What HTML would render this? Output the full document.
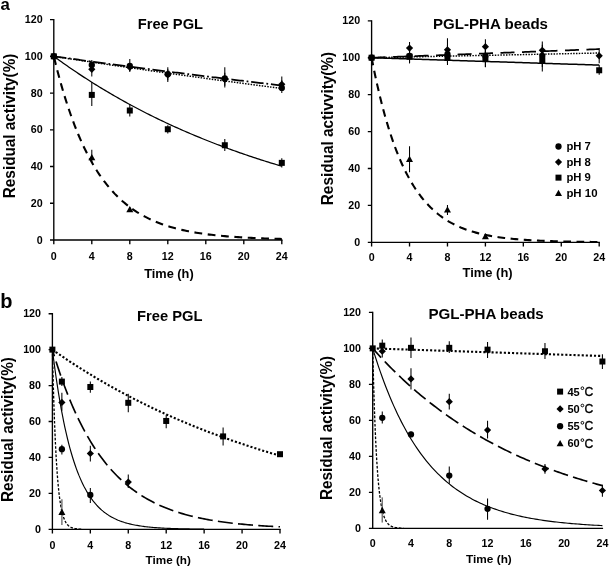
<!DOCTYPE html>
<html lang="en"><head><meta charset="utf-8"><title>Residual activity of free PGL and PGL-PHA beads</title>
<style>html,body{margin:0;padding:0;background:#fff}body{width:609px;height:567px;overflow:hidden}svg{display:block;will-change:transform;opacity:0.999}text{font-family:"Liberation Sans", sans-serif;fill:#000}</style></head><body>
<svg width="609" height="567" viewBox="0 0 609 567">
<rect width="609" height="567" fill="#fff"/>
<g id="p1">
<path d="M53.8 19.6 V240 H281.8" fill="none" stroke="#000" stroke-width="1.35" stroke-linecap="square"/>
<text x="42.6" y="243.6" font-size="11.2" font-weight="bold" text-anchor="end" textLength="5.95" lengthAdjust="spacingAndGlyphs">0</text>
<text x="42.6" y="206.87" font-size="11.2" font-weight="bold" text-anchor="end" textLength="11.9" lengthAdjust="spacingAndGlyphs">20</text>
<text x="42.6" y="170.13" font-size="11.2" font-weight="bold" text-anchor="end" textLength="11.9" lengthAdjust="spacingAndGlyphs">40</text>
<text x="42.6" y="133.4" font-size="11.2" font-weight="bold" text-anchor="end" textLength="11.9" lengthAdjust="spacingAndGlyphs">60</text>
<text x="42.6" y="96.67" font-size="11.2" font-weight="bold" text-anchor="end" textLength="11.9" lengthAdjust="spacingAndGlyphs">80</text>
<text x="42.6" y="59.93" font-size="11.2" font-weight="bold" text-anchor="end" textLength="17.85" lengthAdjust="spacingAndGlyphs">100</text>
<text x="42.6" y="23.2" font-size="11.2" font-weight="bold" text-anchor="end" textLength="17.85" lengthAdjust="spacingAndGlyphs">120</text>
<text x="53.8" y="259.8" font-size="11.2" font-weight="bold" text-anchor="middle" textLength="5.95" lengthAdjust="spacingAndGlyphs">0</text>
<text x="91.8" y="259.8" font-size="11.2" font-weight="bold" text-anchor="middle" textLength="5.95" lengthAdjust="spacingAndGlyphs">4</text>
<text x="129.8" y="259.8" font-size="11.2" font-weight="bold" text-anchor="middle" textLength="5.95" lengthAdjust="spacingAndGlyphs">8</text>
<text x="167.8" y="259.8" font-size="11.2" font-weight="bold" text-anchor="middle" textLength="11.9" lengthAdjust="spacingAndGlyphs">12</text>
<text x="205.8" y="259.8" font-size="11.2" font-weight="bold" text-anchor="middle" textLength="11.9" lengthAdjust="spacingAndGlyphs">16</text>
<text x="243.8" y="259.8" font-size="11.2" font-weight="bold" text-anchor="middle" textLength="11.9" lengthAdjust="spacingAndGlyphs">20</text>
<text x="281.8" y="259.8" font-size="11.2" font-weight="bold" text-anchor="middle" textLength="11.9" lengthAdjust="spacingAndGlyphs">24</text>
<path d="M50 240H53.8M50 203.27H53.8M50 166.53H53.8M50 129.8H53.8M50 93.07H53.8M50 56.33H53.8M50 19.6H53.8M53.8 240V244.2M91.8 240V244.2M129.8 240V244.2M167.8 240V244.2M205.8 240V244.2M243.8 240V244.2M281.8 240V244.2" fill="none" stroke="#000" stroke-width="1.35"/>
<text x="0.6" y="10.3" font-size="16.8" font-weight="bold" text-anchor="start">a</text>
<text x="137.8" y="28.8" font-size="14.9" font-weight="bold" text-anchor="start" textLength="65.2" lengthAdjust="spacingAndGlyphs">Free PGL</text>
<text x="144.2" y="277.7" font-size="12.6" font-weight="bold" text-anchor="start" textLength="49.5" lengthAdjust="spacingAndGlyphs">Time (h)</text>
<text transform="translate(15 198.2) rotate(-90)" font-size="16" font-weight="bold" textLength="144.6" lengthAdjust="spacingAndGlyphs">Residual activity(%)</text>
<path d="M53.8 56.33 L55.7 56.63 L57.6 56.92 L59.5 57.21 L61.4 57.51 L63.3 57.8 L65.2 58.09 L67.1 58.38 L69 58.67 L70.9 58.96 L72.8 59.25 L74.7 59.54 L76.6 59.83 L78.5 60.11 L80.4 60.4 L82.3 60.69 L84.2 60.98 L86.1 61.26 L88 61.55 L89.9 61.83 L91.8 62.12 L93.7 62.4 L95.6 62.69 L97.5 62.97 L99.4 63.25 L101.3 63.54 L103.2 63.82 L105.1 64.1 L107 64.38 L108.9 64.66 L110.8 64.94 L112.7 65.22 L114.6 65.5 L116.5 65.78 L118.4 66.06 L120.3 66.34 L122.2 66.61 L124.1 66.89 L126 67.17 L127.9 67.44 L129.8 67.72 L131.7 68 L133.6 68.27 L135.5 68.54 L137.4 68.82 L139.3 69.09 L141.2 69.37 L143.1 69.64 L145 69.91 L146.9 70.18 L148.8 70.45 L150.7 70.73 L152.6 71 L154.5 71.27 L156.4 71.54 L158.3 71.81 L160.2 72.07 L162.1 72.34 L164 72.61 L165.9 72.88 L167.8 73.15 L169.7 73.41 L171.6 73.68 L173.5 73.94 L175.4 74.21 L177.3 74.47 L179.2 74.74 L181.1 75 L183 75.27 L184.9 75.53 L186.8 75.79 L188.7 76.06 L190.6 76.32 L192.5 76.58 L194.4 76.84 L196.3 77.1 L198.2 77.36 L200.1 77.62 L202 77.88 L203.9 78.14 L205.8 78.4 L207.7 78.66 L209.6 78.92 L211.5 79.17 L213.4 79.43 L215.3 79.69 L217.2 79.94 L219.1 80.2 L221 80.46 L222.9 80.71 L224.8 80.97 L226.7 81.22 L228.6 81.47 L230.5 81.73 L232.4 81.98 L234.3 82.23 L236.2 82.48 L238.1 82.74 L240 82.99 L241.9 83.24 L243.8 83.49 L245.7 83.74 L247.6 83.99 L249.5 84.24 L251.4 84.49 L253.3 84.74 L255.2 84.98 L257.1 85.23 L259 85.48 L260.9 85.73 L262.8 85.97 L264.7 86.22 L266.6 86.47 L268.5 86.71 L270.4 86.96 L272.3 87.2 L274.2 87.45 L276.1 87.69 L278 87.93 L279.9 88.18 L281.8 88.42" fill="none" stroke="#000" stroke-width="1.45" stroke-linecap="butt" stroke-linejoin="round" stroke-dasharray="1.5 1.3"/>
<path d="M53.8 56.33 L55.7 56.6 L57.6 56.86 L59.5 57.13 L61.4 57.39 L63.3 57.65 L65.2 57.91 L67.1 58.18 L69 58.44 L70.9 58.7 L72.8 58.96 L74.7 59.22 L76.6 59.48 L78.5 59.74 L80.4 60 L82.3 60.26 L84.2 60.52 L86.1 60.77 L88 61.03 L89.9 61.29 L91.8 61.55 L93.7 61.8 L95.6 62.06 L97.5 62.32 L99.4 62.57 L101.3 62.83 L103.2 63.08 L105.1 63.34 L107 63.59 L108.9 63.85 L110.8 64.1 L112.7 64.35 L114.6 64.6 L116.5 64.86 L118.4 65.11 L120.3 65.36 L122.2 65.61 L124.1 65.86 L126 66.11 L127.9 66.36 L129.8 66.61 L131.7 66.86 L133.6 67.11 L135.5 67.36 L137.4 67.61 L139.3 67.86 L141.2 68.11 L143.1 68.35 L145 68.6 L146.9 68.85 L148.8 69.09 L150.7 69.34 L152.6 69.58 L154.5 69.83 L156.4 70.07 L158.3 70.32 L160.2 70.56 L162.1 70.81 L164 71.05 L165.9 71.29 L167.8 71.54 L169.7 71.78 L171.6 72.02 L173.5 72.26 L175.4 72.5 L177.3 72.74 L179.2 72.99 L181.1 73.23 L183 73.47 L184.9 73.71 L186.8 73.94 L188.7 74.18 L190.6 74.42 L192.5 74.66 L194.4 74.9 L196.3 75.14 L198.2 75.37 L200.1 75.61 L202 75.85 L203.9 76.08 L205.8 76.32 L207.7 76.55 L209.6 76.79 L211.5 77.02 L213.4 77.26 L215.3 77.49 L217.2 77.73 L219.1 77.96 L221 78.19 L222.9 78.43 L224.8 78.66 L226.7 78.89 L228.6 79.12 L230.5 79.35 L232.4 79.59 L234.3 79.82 L236.2 80.05 L238.1 80.28 L240 80.51 L241.9 80.74 L243.8 80.97 L245.7 81.19 L247.6 81.42 L249.5 81.65 L251.4 81.88 L253.3 82.11 L255.2 82.33 L257.1 82.56 L259 82.79 L260.9 83.01 L262.8 83.24 L264.7 83.46 L266.6 83.69 L268.5 83.91 L270.4 84.14 L272.3 84.36 L274.2 84.59 L276.1 84.81 L278 85.03 L279.9 85.26 L281.8 85.48" fill="none" stroke="#000" stroke-width="1.75" stroke-linecap="butt" stroke-linejoin="round" stroke-dasharray="12.5 2.8 1.8 2.8"/>
<path d="M53.8 56.33 L55.7 57.72 L57.6 59.1 L59.5 60.47 L61.4 61.83 L63.3 63.18 L65.2 64.52 L67.1 65.85 L69 67.17 L70.9 68.48 L72.8 69.77 L74.7 71.06 L76.6 72.34 L78.5 73.61 L80.4 74.87 L82.3 76.12 L84.2 77.36 L86.1 78.59 L88 79.82 L89.9 81.03 L91.8 82.23 L93.7 83.43 L95.6 84.61 L97.5 85.79 L99.4 86.96 L101.3 88.12 L103.2 89.27 L105.1 90.41 L107 91.54 L108.9 92.66 L110.8 93.78 L112.7 94.89 L114.6 95.98 L116.5 97.07 L118.4 98.16 L120.3 99.23 L122.2 100.3 L124.1 101.35 L126 102.4 L127.9 103.45 L129.8 104.48 L131.7 105.51 L133.6 106.52 L135.5 107.53 L137.4 108.54 L139.3 109.53 L141.2 110.52 L143.1 111.5 L145 112.47 L146.9 113.44 L148.8 114.4 L150.7 115.35 L152.6 116.29 L154.5 117.23 L156.4 118.16 L158.3 119.08 L160.2 120 L162.1 120.9 L164 121.81 L165.9 122.7 L167.8 123.59 L169.7 124.47 L171.6 125.35 L173.5 126.21 L175.4 127.08 L177.3 127.93 L179.2 128.78 L181.1 129.62 L183 130.46 L184.9 131.29 L186.8 132.11 L188.7 132.93 L190.6 133.74 L192.5 134.54 L194.4 135.34 L196.3 136.13 L198.2 136.92 L200.1 137.7 L202 138.47 L203.9 139.24 L205.8 140 L207.7 140.76 L209.6 141.51 L211.5 142.26 L213.4 143 L215.3 143.73 L217.2 144.46 L219.1 145.19 L221 145.9 L222.9 146.62 L224.8 147.32 L226.7 148.02 L228.6 148.72 L230.5 149.41 L232.4 150.1 L234.3 150.78 L236.2 151.45 L238.1 152.12 L240 152.79 L241.9 153.45 L243.8 154.11 L245.7 154.76 L247.6 155.4 L249.5 156.04 L251.4 156.68 L253.3 157.31 L255.2 157.93 L257.1 158.56 L259 159.17 L260.9 159.78 L262.8 160.39 L264.7 160.99 L266.6 161.59 L268.5 162.19 L270.4 162.78 L272.3 163.36 L274.2 163.94 L276.1 164.52 L278 165.09 L279.9 165.65 L281.8 166.22" fill="none" stroke="#000" stroke-width="1.25" stroke-linecap="butt" stroke-linejoin="round"/>
<path d="M53.8 56.33 L55.7 64.06 L57.6 71.47 L59.5 78.56 L61.4 85.36 L63.3 91.87 L65.2 98.1 L67.1 104.07 L69 109.79 L70.9 115.27 L72.8 120.52 L74.7 125.55 L76.6 130.37 L78.5 134.98 L80.4 139.4 L82.3 143.64 L84.2 147.69 L86.1 151.58 L88 155.3 L89.9 158.86 L91.8 162.28 L93.7 165.55 L95.6 168.68 L97.5 171.69 L99.4 174.56 L101.3 177.31 L103.2 179.95 L105.1 182.48 L107 184.9 L108.9 187.22 L110.8 189.44 L112.7 191.57 L114.6 193.61 L116.5 195.56 L118.4 197.43 L120.3 199.22 L122.2 200.94 L124.1 202.58 L126 204.16 L127.9 205.67 L129.8 207.11 L131.7 208.5 L133.6 209.82 L135.5 211.09 L137.4 212.31 L139.3 213.47 L141.2 214.59 L143.1 215.66 L145 216.68 L146.9 217.67 L148.8 218.61 L150.7 219.51 L152.6 220.37 L154.5 221.2 L156.4 221.99 L158.3 222.74 L160.2 223.47 L162.1 224.17 L164 224.83 L165.9 225.47 L167.8 226.08 L169.7 226.67 L171.6 227.23 L173.5 227.77 L175.4 228.28 L177.3 228.78 L179.2 229.25 L181.1 229.7 L183 230.13 L184.9 230.55 L186.8 230.95 L188.7 231.33 L190.6 231.69 L192.5 232.04 L194.4 232.38 L196.3 232.7 L198.2 233.01 L200.1 233.3 L202 233.58 L203.9 233.85 L205.8 234.11 L207.7 234.36 L209.6 234.6 L211.5 234.82 L213.4 235.04 L215.3 235.25 L217.2 235.45 L219.1 235.64 L221 235.82 L222.9 236 L224.8 236.17 L226.7 236.33 L228.6 236.48 L230.5 236.63 L232.4 236.77 L234.3 236.91 L236.2 237.04 L238.1 237.16 L240 237.28 L241.9 237.4 L243.8 237.51 L245.7 237.61 L247.6 237.71 L249.5 237.81 L251.4 237.9 L253.3 237.99 L255.2 238.07 L257.1 238.16 L259 238.23 L260.9 238.31 L262.8 238.38 L264.7 238.45 L266.6 238.51 L268.5 238.58 L270.4 238.64 L272.3 238.69 L274.2 238.75 L276.1 238.8 L278 238.85 L279.9 238.9 L281.8 238.95" fill="none" stroke="#000" stroke-width="2.1" stroke-linecap="butt" stroke-linejoin="round" stroke-dasharray="7.8 5.6" stroke-dashoffset="-1"/>
<path d="M91.8 60.01V71.03M129.8 59.09V71.94M167.8 67.35V82.05M224.8 67.35V87.56M281.8 76.54V93.07" fill="none" stroke="#000" stroke-width="1.05"/>
<circle cx="53.8" cy="56.33" r="3.15" fill="#000"/>
<circle cx="91.8" cy="64.97" r="3.15" fill="#000"/>
<circle cx="129.8" cy="65.88" r="3.15" fill="#000"/>
<circle cx="167.8" cy="74.15" r="3.15" fill="#000"/>
<circle cx="224.8" cy="78.37" r="3.15" fill="#000"/>
<circle cx="281.8" cy="87.92" r="3.15" fill="#000"/>
<path d="M91.8 61.84V76.54M129.8 63.68V71.03M167.8 69.19V80.21M224.8 72.86V85.72M281.8 80.21V89.39" fill="none" stroke="#000" stroke-width="1.05"/>
<path d="M53.8 52.73L57.4 56.33L53.8 59.93L50.2 56.33Z" fill="#000"/>
<path d="M91.8 65.77L95.4 69.37L91.8 72.97L88.2 69.37Z" fill="#000"/>
<path d="M129.8 63.75L133.4 67.35L129.8 70.95L126.2 67.35Z" fill="#000"/>
<path d="M167.8 71.1L171.4 74.7L167.8 78.3L164.2 74.7Z" fill="#000"/>
<path d="M224.8 75.88L228.4 79.48L224.8 83.08L221.2 79.48Z" fill="#000"/>
<path d="M281.8 80.65L285.4 84.25L281.8 87.85L278.2 84.25Z" fill="#000"/>
<path d="M91.8 82.05V105.92M129.8 104.09V116.39M167.8 125.21V133.47M224.8 138.98V150.92M281.8 158.27V167.45" fill="none" stroke="#000" stroke-width="1.05"/>
<rect x="50.8" y="53.33" width="6" height="6" fill="#000"/>
<rect x="88.8" y="91.9" width="6" height="6" fill="#000"/>
<rect x="126.8" y="107.51" width="6" height="6" fill="#000"/>
<rect x="164.8" y="126.25" width="6" height="6" fill="#000"/>
<rect x="221.8" y="142.23" width="6" height="6" fill="#000"/>
<rect x="278.8" y="159.86" width="6" height="6" fill="#000"/>
<path d="M91.8 149.64V162.86M129.8 206.94V211.53" fill="none" stroke="#000" stroke-width="1.05"/>
<path d="M91.8 153.88L95.3 160.19L88.3 160.19Z" fill="#000"/>
<path d="M129.8 206.05L133.3 212.35L126.3 212.35Z" fill="#000"/>
</g>
<g id="p2">
<path d="M371.6 20.8 V242.3 H599.2" fill="none" stroke="#000" stroke-width="1.35" stroke-linecap="square"/>
<text x="360.1" y="245.9" font-size="11.2" font-weight="bold" text-anchor="end" textLength="5.95" lengthAdjust="spacingAndGlyphs">0</text>
<text x="360.1" y="208.98" font-size="11.2" font-weight="bold" text-anchor="end" textLength="11.9" lengthAdjust="spacingAndGlyphs">20</text>
<text x="360.1" y="172.07" font-size="11.2" font-weight="bold" text-anchor="end" textLength="11.9" lengthAdjust="spacingAndGlyphs">40</text>
<text x="360.1" y="135.15" font-size="11.2" font-weight="bold" text-anchor="end" textLength="11.9" lengthAdjust="spacingAndGlyphs">60</text>
<text x="360.1" y="98.23" font-size="11.2" font-weight="bold" text-anchor="end" textLength="11.9" lengthAdjust="spacingAndGlyphs">80</text>
<text x="360.1" y="61.32" font-size="11.2" font-weight="bold" text-anchor="end" textLength="17.85" lengthAdjust="spacingAndGlyphs">100</text>
<text x="360.1" y="24.4" font-size="11.2" font-weight="bold" text-anchor="end" textLength="17.85" lengthAdjust="spacingAndGlyphs">120</text>
<text x="371.6" y="261.4" font-size="11.2" font-weight="bold" text-anchor="middle" textLength="5.95" lengthAdjust="spacingAndGlyphs">0</text>
<text x="409.53" y="261.4" font-size="11.2" font-weight="bold" text-anchor="middle" textLength="5.95" lengthAdjust="spacingAndGlyphs">4</text>
<text x="447.47" y="261.4" font-size="11.2" font-weight="bold" text-anchor="middle" textLength="5.95" lengthAdjust="spacingAndGlyphs">8</text>
<text x="485.4" y="261.4" font-size="11.2" font-weight="bold" text-anchor="middle" textLength="11.9" lengthAdjust="spacingAndGlyphs">12</text>
<text x="523.33" y="261.4" font-size="11.2" font-weight="bold" text-anchor="middle" textLength="11.9" lengthAdjust="spacingAndGlyphs">16</text>
<text x="561.27" y="261.4" font-size="11.2" font-weight="bold" text-anchor="middle" textLength="11.9" lengthAdjust="spacingAndGlyphs">20</text>
<text x="599.2" y="261.4" font-size="11.2" font-weight="bold" text-anchor="middle" textLength="11.9" lengthAdjust="spacingAndGlyphs">24</text>
<path d="M367.8 242.3H371.6M367.8 205.38H371.6M367.8 168.47H371.6M367.8 131.55H371.6M367.8 94.63H371.6M367.8 57.72H371.6M367.8 20.8H371.6M371.6 242.3V246.5M409.53 242.3V246.5M447.47 242.3V246.5M485.4 242.3V246.5M523.33 242.3V246.5M561.27 242.3V246.5M599.2 242.3V246.5" fill="none" stroke="#000" stroke-width="1.35"/>
<text x="433" y="28.7" font-size="14.9" font-weight="bold" text-anchor="start" textLength="115" lengthAdjust="spacingAndGlyphs">PGL-PHA beads</text>
<text x="462.6" y="277.2" font-size="12.6" font-weight="bold" text-anchor="start" textLength="50" lengthAdjust="spacingAndGlyphs">Time (h)</text>
<text transform="translate(333.1 205.2) rotate(-90)" font-size="16" font-weight="bold" textLength="153.3" lengthAdjust="spacingAndGlyphs">Residual activvity(%)</text>
<path d="M371.6 57.72 L373.5 57.68 L375.39 57.64 L377.29 57.6 L379.19 57.56 L381.08 57.52 L382.98 57.48 L384.88 57.45 L386.77 57.41 L388.67 57.37 L390.57 57.33 L392.46 57.29 L394.36 57.25 L396.26 57.21 L398.15 57.17 L400.05 57.13 L401.95 57.1 L403.84 57.06 L405.74 57.02 L407.64 56.98 L409.53 56.94 L411.43 56.9 L413.33 56.86 L415.22 56.82 L417.12 56.78 L419.02 56.75 L420.91 56.71 L422.81 56.67 L424.71 56.63 L426.6 56.59 L428.5 56.55 L430.4 56.51 L432.29 56.47 L434.19 56.43 L436.09 56.39 L437.98 56.35 L439.88 56.32 L441.78 56.28 L443.67 56.24 L445.57 56.2 L447.47 56.16 L449.36 56.12 L451.26 56.08 L453.16 56.04 L455.05 56 L456.95 55.96 L458.85 55.92 L460.74 55.89 L462.64 55.85 L464.54 55.81 L466.43 55.77 L468.33 55.73 L470.23 55.69 L472.12 55.65 L474.02 55.61 L475.92 55.57 L477.81 55.53 L479.71 55.49 L481.61 55.45 L483.5 55.42 L485.4 55.38 L487.3 55.34 L489.19 55.3 L491.09 55.26 L492.99 55.22 L494.88 55.18 L496.78 55.14 L498.68 55.1 L500.57 55.06 L502.47 55.02 L504.37 54.98 L506.26 54.94 L508.16 54.9 L510.06 54.87 L511.95 54.83 L513.85 54.79 L515.75 54.75 L517.64 54.71 L519.54 54.67 L521.44 54.63 L523.33 54.59 L525.23 54.55 L527.13 54.51 L529.02 54.47 L530.92 54.43 L532.82 54.39 L534.71 54.35 L536.61 54.31 L538.51 54.27 L540.4 54.23 L542.3 54.19 L544.2 54.16 L546.09 54.12 L547.99 54.08 L549.89 54.04 L551.78 54 L553.68 53.96 L555.58 53.92 L557.47 53.88 L559.37 53.84 L561.27 53.8 L563.16 53.76 L565.06 53.72 L566.96 53.68 L568.85 53.64 L570.75 53.6 L572.65 53.56 L574.54 53.52 L576.44 53.48 L578.34 53.44 L580.23 53.4 L582.13 53.36 L584.03 53.32 L585.92 53.28 L587.82 53.24 L589.72 53.2 L591.61 53.17 L593.51 53.13 L595.41 53.09 L597.3 53.05 L599.2 53.01" fill="none" stroke="#000" stroke-width="1.45" stroke-linecap="butt" stroke-linejoin="round" stroke-dasharray="1.5 1.3"/>
<path d="M371.6 57.72 L373.5 57.65 L375.39 57.58 L377.29 57.51 L379.19 57.44 L381.08 57.37 L382.98 57.3 L384.88 57.23 L386.77 57.15 L388.67 57.08 L390.57 57.01 L392.46 56.94 L394.36 56.87 L396.26 56.8 L398.15 56.73 L400.05 56.66 L401.95 56.59 L403.84 56.52 L405.74 56.45 L407.64 56.38 L409.53 56.31 L411.43 56.24 L413.33 56.17 L415.22 56.1 L417.12 56.03 L419.02 55.95 L420.91 55.88 L422.81 55.81 L424.71 55.74 L426.6 55.67 L428.5 55.6 L430.4 55.53 L432.29 55.46 L434.19 55.39 L436.09 55.32 L437.98 55.25 L439.88 55.17 L441.78 55.1 L443.67 55.03 L445.57 54.96 L447.47 54.89 L449.36 54.82 L451.26 54.75 L453.16 54.68 L455.05 54.6 L456.95 54.53 L458.85 54.46 L460.74 54.39 L462.64 54.32 L464.54 54.25 L466.43 54.18 L468.33 54.1 L470.23 54.03 L472.12 53.96 L474.02 53.89 L475.92 53.82 L477.81 53.75 L479.71 53.67 L481.61 53.6 L483.5 53.53 L485.4 53.46 L487.3 53.39 L489.19 53.32 L491.09 53.24 L492.99 53.17 L494.88 53.1 L496.78 53.03 L498.68 52.96 L500.57 52.88 L502.47 52.81 L504.37 52.74 L506.26 52.67 L508.16 52.6 L510.06 52.52 L511.95 52.45 L513.85 52.38 L515.75 52.31 L517.64 52.24 L519.54 52.16 L521.44 52.09 L523.33 52.02 L525.23 51.95 L527.13 51.87 L529.02 51.8 L530.92 51.73 L532.82 51.66 L534.71 51.58 L536.61 51.51 L538.51 51.44 L540.4 51.37 L542.3 51.29 L544.2 51.22 L546.09 51.15 L547.99 51.08 L549.89 51 L551.78 50.93 L553.68 50.86 L555.58 50.79 L557.47 50.71 L559.37 50.64 L561.27 50.57 L563.16 50.49 L565.06 50.42 L566.96 50.35 L568.85 50.28 L570.75 50.2 L572.65 50.13 L574.54 50.06 L576.44 49.98 L578.34 49.91 L580.23 49.84 L582.13 49.76 L584.03 49.69 L585.92 49.62 L587.82 49.54 L589.72 49.47 L591.61 49.4 L593.51 49.32 L595.41 49.25 L597.3 49.18 L599.2 49.1" fill="none" stroke="#000" stroke-width="1.75" stroke-linecap="butt" stroke-linejoin="round" stroke-dasharray="14 7.5"/>
<path d="M371.6 57.72 L373.5 57.78 L375.39 57.84 L377.29 57.9 L379.19 57.97 L381.08 58.03 L382.98 58.09 L384.88 58.16 L386.77 58.22 L388.67 58.28 L390.57 58.34 L392.46 58.41 L394.36 58.47 L396.26 58.53 L398.15 58.59 L400.05 58.66 L401.95 58.72 L403.84 58.78 L405.74 58.84 L407.64 58.91 L409.53 58.97 L411.43 59.03 L413.33 59.09 L415.22 59.15 L417.12 59.22 L419.02 59.28 L420.91 59.34 L422.81 59.4 L424.71 59.47 L426.6 59.53 L428.5 59.59 L430.4 59.65 L432.29 59.71 L434.19 59.78 L436.09 59.84 L437.98 59.9 L439.88 59.96 L441.78 60.02 L443.67 60.09 L445.57 60.15 L447.47 60.21 L449.36 60.27 L451.26 60.33 L453.16 60.4 L455.05 60.46 L456.95 60.52 L458.85 60.58 L460.74 60.64 L462.64 60.7 L464.54 60.77 L466.43 60.83 L468.33 60.89 L470.23 60.95 L472.12 61.01 L474.02 61.07 L475.92 61.14 L477.81 61.2 L479.71 61.26 L481.61 61.32 L483.5 61.38 L485.4 61.44 L487.3 61.51 L489.19 61.57 L491.09 61.63 L492.99 61.69 L494.88 61.75 L496.78 61.81 L498.68 61.87 L500.57 61.94 L502.47 62 L504.37 62.06 L506.26 62.12 L508.16 62.18 L510.06 62.24 L511.95 62.3 L513.85 62.36 L515.75 62.43 L517.64 62.49 L519.54 62.55 L521.44 62.61 L523.33 62.67 L525.23 62.73 L527.13 62.79 L529.02 62.85 L530.92 62.91 L532.82 62.97 L534.71 63.04 L536.61 63.1 L538.51 63.16 L540.4 63.22 L542.3 63.28 L544.2 63.34 L546.09 63.4 L547.99 63.46 L549.89 63.52 L551.78 63.58 L553.68 63.64 L555.58 63.7 L557.47 63.77 L559.37 63.83 L561.27 63.89 L563.16 63.95 L565.06 64.01 L566.96 64.07 L568.85 64.13 L570.75 64.19 L572.65 64.25 L574.54 64.31 L576.44 64.37 L578.34 64.43 L580.23 64.49 L582.13 64.55 L584.03 64.61 L585.92 64.67 L587.82 64.73 L589.72 64.79 L591.61 64.85 L593.51 64.92 L595.41 64.98 L597.3 65.04 L599.2 65.1" fill="none" stroke="#000" stroke-width="1.5" stroke-linecap="butt" stroke-linejoin="round"/>
<path d="M371.6 57.72 L373.5 67.35 L375.39 76.48 L377.29 85.13 L379.19 93.34 L381.08 101.11 L382.98 108.48 L384.88 115.46 L386.77 122.08 L388.67 128.36 L390.57 134.3 L392.46 139.94 L394.36 145.28 L396.26 150.34 L398.15 155.14 L400.05 159.69 L401.95 164 L403.84 168.09 L405.74 171.96 L407.64 175.63 L409.53 179.11 L411.43 182.41 L413.33 185.54 L415.22 188.5 L417.12 191.31 L419.02 193.97 L420.91 196.49 L422.81 198.88 L424.71 201.15 L426.6 203.29 L428.5 205.33 L430.4 207.26 L432.29 209.09 L434.19 210.82 L436.09 212.46 L437.98 214.02 L439.88 215.5 L441.78 216.9 L443.67 218.22 L445.57 219.48 L447.47 220.67 L449.36 221.8 L451.26 222.87 L453.16 223.88 L455.05 224.84 L456.95 225.75 L458.85 226.62 L460.74 227.44 L462.64 228.21 L464.54 228.95 L466.43 229.64 L468.33 230.3 L470.23 230.93 L472.12 231.52 L474.02 232.09 L475.92 232.62 L477.81 233.12 L479.71 233.6 L481.61 234.06 L483.5 234.49 L485.4 234.9 L487.3 235.28 L489.19 235.65 L491.09 236 L492.99 236.32 L494.88 236.64 L496.78 236.93 L498.68 237.21 L500.57 237.48 L502.47 237.73 L504.37 237.97 L506.26 238.19 L508.16 238.41 L510.06 238.61 L511.95 238.8 L513.85 238.99 L515.75 239.16 L517.64 239.32 L519.54 239.48 L521.44 239.63 L523.33 239.77 L525.23 239.9 L527.13 240.02 L529.02 240.14 L530.92 240.25 L532.82 240.36 L534.71 240.46 L536.61 240.56 L538.51 240.65 L540.4 240.74 L542.3 240.82 L544.2 240.89 L546.09 240.97 L547.99 241.04 L549.89 241.1 L551.78 241.17 L553.68 241.22 L555.58 241.28 L557.47 241.33 L559.37 241.38 L561.27 241.43 L563.16 241.48 L565.06 241.52 L566.96 241.56 L568.85 241.6 L570.75 241.64 L572.65 241.67 L574.54 241.7 L576.44 241.73 L578.34 241.76 L580.23 241.79 L582.13 241.82 L584.03 241.84 L585.92 241.87 L587.82 241.89 L589.72 241.91 L591.61 241.93 L593.51 241.95 L595.41 241.97 L597.3 241.99 L599.2 242" fill="none" stroke="#000" stroke-width="2.1" stroke-linecap="butt" stroke-linejoin="round" stroke-dasharray="7.7 5.5"/>
<path d="M409.53 48.49V63.25M447.47 44.8V63.25M485.4 44.8V66.95M542.3 44.8V66.95" fill="none" stroke="#000" stroke-width="1.05"/>
<circle cx="371.6" cy="57.72" r="3.15" fill="#000"/>
<circle cx="409.53" cy="55.87" r="3.15" fill="#000"/>
<circle cx="447.47" cy="54.03" r="3.15" fill="#000"/>
<circle cx="485.4" cy="55.87" r="3.15" fill="#000"/>
<circle cx="542.3" cy="55.87" r="3.15" fill="#000"/>
<path d="M409.53 42.03V54.03M447.47 38.34V59.56M485.4 39.26V55.87M542.3 41.47V59.56M599.2 47.93V63.25" fill="none" stroke="#000" stroke-width="1.05"/>
<path d="M371.6 54.12L375.2 57.72L371.6 61.32L368 57.72Z" fill="#000"/>
<path d="M409.53 44.52L413.13 48.12L409.53 51.72L405.93 48.12Z" fill="#000"/>
<path d="M447.47 46.18L451.07 49.78L447.47 53.38L443.87 49.78Z" fill="#000"/>
<path d="M485.4 43.04L489 46.64L485.4 50.24L481.8 46.64Z" fill="#000"/>
<path d="M542.3 46.73L545.9 50.33L542.3 53.93L538.7 50.33Z" fill="#000"/>
<path d="M599.2 52.27L602.8 55.87L599.2 59.47L595.6 55.87Z" fill="#000"/>
<path d="M409.53 50.33V63.25M447.47 50.33V65.1M485.4 50.33V67.31M542.3 50.33V71.56M599.2 65.1V74.7" fill="none" stroke="#000" stroke-width="1.05"/>
<rect x="368.6" y="54.72" width="6" height="6" fill="#000"/>
<rect x="406.53" y="53.61" width="6" height="6" fill="#000"/>
<rect x="444.47" y="54.72" width="6" height="6" fill="#000"/>
<rect x="482.4" y="55.64" width="6" height="6" fill="#000"/>
<rect x="539.3" y="57.3" width="6" height="6" fill="#000"/>
<rect x="596.2" y="67.27" width="6" height="6" fill="#000"/>
<path d="M409.53 146.32V172.16M447.47 205.01V214.98M485.4 233.99V238.61" fill="none" stroke="#000" stroke-width="1.05"/>
<path d="M409.53 155.77L413.03 162.07L406.03 162.07Z" fill="#000"/>
<path d="M447.47 206.16L450.97 212.46L443.97 212.46Z" fill="#000"/>
<path d="M485.4 232.93L488.9 239.23L481.9 239.23Z" fill="#000"/>
<circle cx="558.5" cy="146.5" r="3.15" fill="#000"/>
<text x="566.4" y="150.1" font-size="11" font-weight="bold" text-anchor="start" textLength="24.5" lengthAdjust="spacingAndGlyphs">pH 7</text>
<path d="M558.5 158.47L562.1 162.07L558.5 165.67L554.9 162.07Z" fill="#000"/>
<text x="566.4" y="165.67" font-size="11" font-weight="bold" text-anchor="start" textLength="24.5" lengthAdjust="spacingAndGlyphs">pH 8</text>
<rect x="555.5" y="174.64" width="6" height="6" fill="#000"/>
<text x="566.4" y="181.24" font-size="11" font-weight="bold" text-anchor="start" textLength="24.5" lengthAdjust="spacingAndGlyphs">pH 9</text>
<path d="M558.5 189.75L562 196.05L555 196.05Z" fill="#000"/>
<text x="566.4" y="196.81" font-size="11" font-weight="bold" text-anchor="start" textLength="31.1" lengthAdjust="spacingAndGlyphs">pH 10</text>
</g>
<g id="p3">
<path d="M52.4 313.7 V529.3 H280" fill="none" stroke="#000" stroke-width="1.35" stroke-linecap="square"/>
<text x="41" y="532.9" font-size="11.2" font-weight="bold" text-anchor="end" textLength="5.95" lengthAdjust="spacingAndGlyphs">0</text>
<text x="41" y="496.97" font-size="11.2" font-weight="bold" text-anchor="end" textLength="11.9" lengthAdjust="spacingAndGlyphs">20</text>
<text x="41" y="461.03" font-size="11.2" font-weight="bold" text-anchor="end" textLength="11.9" lengthAdjust="spacingAndGlyphs">40</text>
<text x="41" y="425.1" font-size="11.2" font-weight="bold" text-anchor="end" textLength="11.9" lengthAdjust="spacingAndGlyphs">60</text>
<text x="41" y="389.17" font-size="11.2" font-weight="bold" text-anchor="end" textLength="11.9" lengthAdjust="spacingAndGlyphs">80</text>
<text x="41" y="353.23" font-size="11.2" font-weight="bold" text-anchor="end" textLength="17.85" lengthAdjust="spacingAndGlyphs">100</text>
<text x="41" y="317.3" font-size="11.2" font-weight="bold" text-anchor="end" textLength="17.85" lengthAdjust="spacingAndGlyphs">120</text>
<text x="52.4" y="548.5" font-size="11.2" font-weight="bold" text-anchor="middle" textLength="5.95" lengthAdjust="spacingAndGlyphs">0</text>
<text x="90.33" y="548.5" font-size="11.2" font-weight="bold" text-anchor="middle" textLength="5.95" lengthAdjust="spacingAndGlyphs">4</text>
<text x="128.27" y="548.5" font-size="11.2" font-weight="bold" text-anchor="middle" textLength="5.95" lengthAdjust="spacingAndGlyphs">8</text>
<text x="166.2" y="548.5" font-size="11.2" font-weight="bold" text-anchor="middle" textLength="11.9" lengthAdjust="spacingAndGlyphs">12</text>
<text x="204.13" y="548.5" font-size="11.2" font-weight="bold" text-anchor="middle" textLength="11.9" lengthAdjust="spacingAndGlyphs">16</text>
<text x="242.07" y="548.5" font-size="11.2" font-weight="bold" text-anchor="middle" textLength="11.9" lengthAdjust="spacingAndGlyphs">20</text>
<text x="280" y="548.5" font-size="11.2" font-weight="bold" text-anchor="middle" textLength="11.9" lengthAdjust="spacingAndGlyphs">24</text>
<path d="M48.6 529.3H52.4M48.6 493.37H52.4M48.6 457.43H52.4M48.6 421.5H52.4M48.6 385.57H52.4M48.6 349.63H52.4M48.6 313.7H52.4M52.4 529.3V533.5M90.33 529.3V533.5M128.27 529.3V533.5M166.2 529.3V533.5M204.13 529.3V533.5M242.07 529.3V533.5M280 529.3V533.5" fill="none" stroke="#000" stroke-width="1.35"/>
<text x="0.2" y="308.3" font-size="20" font-weight="bold" text-anchor="start">b</text>
<text x="137.1" y="320.8" font-size="14.9" font-weight="bold" text-anchor="start" textLength="65.4" lengthAdjust="spacingAndGlyphs">Free PGL</text>
<text x="145.5" y="563.5" font-size="11.4" font-weight="bold" text-anchor="start" textLength="45.4" lengthAdjust="spacingAndGlyphs">Time (h)</text>
<text transform="translate(13.2 502.1) rotate(-90)" font-size="16" font-weight="bold" textLength="145" lengthAdjust="spacingAndGlyphs">Residual activity(%)</text>
<path d="M52.4 349.63 L54.3 350.97 L56.19 352.29 L58.09 353.6 L59.99 354.9 L61.88 356.19 L63.78 357.48 L65.68 358.75 L67.57 360.02 L69.47 361.27 L71.37 362.52 L73.26 363.75 L75.16 364.98 L77.06 366.2 L78.95 367.41 L80.85 368.61 L82.75 369.8 L84.64 370.98 L86.54 372.15 L88.44 373.32 L90.33 374.47 L92.23 375.62 L94.13 376.76 L96.02 377.89 L97.92 379.01 L99.82 380.13 L101.71 381.23 L103.61 382.33 L105.51 383.42 L107.4 384.5 L109.3 385.57 L111.2 386.64 L113.09 387.7 L114.99 388.75 L116.89 389.79 L118.78 390.82 L120.68 391.85 L122.58 392.87 L124.47 393.88 L126.37 394.88 L128.27 395.88 L130.16 396.87 L132.06 397.85 L133.96 398.82 L135.85 399.79 L137.75 400.75 L139.65 401.7 L141.54 402.65 L143.44 403.59 L145.34 404.52 L147.23 405.45 L149.13 406.36 L151.03 407.28 L152.92 408.18 L154.82 409.08 L156.72 409.97 L158.61 410.85 L160.51 411.73 L162.41 412.6 L164.3 413.47 L166.2 414.33 L168.1 415.18 L169.99 416.02 L171.89 416.86 L173.79 417.7 L175.68 418.52 L177.58 419.35 L179.48 420.16 L181.37 420.97 L183.27 421.77 L185.17 422.57 L187.06 423.36 L188.96 424.15 L190.86 424.93 L192.75 425.7 L194.65 426.47 L196.55 427.23 L198.44 427.99 L200.34 428.74 L202.24 429.48 L204.13 430.22 L206.03 430.96 L207.93 431.69 L209.82 432.41 L211.72 433.13 L213.62 433.84 L215.51 434.55 L217.41 435.25 L219.31 435.95 L221.2 436.64 L223.1 437.33 L225 438.01 L226.89 438.68 L228.79 439.36 L230.69 440.02 L232.58 440.68 L234.48 441.34 L236.38 441.99 L238.27 442.64 L240.17 443.28 L242.07 443.92 L243.96 444.55 L245.86 445.18 L247.76 445.81 L249.65 446.42 L251.55 447.04 L253.45 447.65 L255.34 448.25 L257.24 448.85 L259.14 449.45 L261.03 450.04 L262.93 450.63 L264.83 451.21 L266.72 451.79 L268.62 452.37 L270.52 452.94 L272.41 453.5 L274.31 454.06 L276.21 454.62 L278.1 455.18 L280 455.73" fill="none" stroke="#000" stroke-width="2.1" stroke-linecap="butt" stroke-linejoin="round" stroke-dasharray="2.1 2"/>
<path d="M52.4 349.63 L54.3 355.92 L56.19 361.98 L58.09 367.83 L59.99 373.48 L61.88 378.93 L63.78 384.19 L65.68 389.26 L67.57 394.16 L69.47 398.89 L71.37 403.45 L73.26 407.85 L75.16 412.1 L77.06 416.2 L78.95 420.15 L80.85 423.97 L82.75 427.65 L84.64 431.21 L86.54 434.64 L88.44 437.95 L90.33 441.14 L92.23 444.23 L94.13 447.2 L96.02 450.07 L97.92 452.84 L99.82 455.52 L101.71 458.1 L103.61 460.59 L105.51 462.99 L107.4 465.31 L109.3 467.55 L111.2 469.71 L113.09 471.79 L114.99 473.8 L116.89 475.75 L118.78 477.62 L120.68 479.43 L122.58 481.17 L124.47 482.85 L126.37 484.48 L128.27 486.05 L130.16 487.56 L132.06 489.02 L133.96 490.43 L135.85 491.79 L137.75 493.1 L139.65 494.36 L141.54 495.59 L143.44 496.77 L145.34 497.9 L147.23 499 L149.13 500.06 L151.03 501.08 L152.92 502.07 L154.82 503.02 L156.72 503.94 L158.61 504.83 L160.51 505.68 L162.41 506.51 L164.3 507.31 L166.2 508.08 L168.1 508.82 L169.99 509.54 L171.89 510.23 L173.79 510.89 L175.68 511.54 L177.58 512.16 L179.48 512.76 L181.37 513.34 L183.27 513.89 L185.17 514.43 L187.06 514.95 L188.96 515.46 L190.86 515.94 L192.75 516.41 L194.65 516.86 L196.55 517.29 L198.44 517.71 L200.34 518.12 L202.24 518.51 L204.13 518.89 L206.03 519.25 L207.93 519.6 L209.82 519.94 L211.72 520.27 L213.62 520.58 L215.51 520.89 L217.41 521.18 L219.31 521.47 L221.2 521.74 L223.1 522.01 L225 522.26 L226.89 522.51 L228.79 522.74 L230.69 522.97 L232.58 523.2 L234.48 523.41 L236.38 523.61 L238.27 523.81 L240.17 524.01 L242.07 524.19 L243.96 524.37 L245.86 524.54 L247.76 524.71 L249.65 524.87 L251.55 525.02 L253.45 525.17 L255.34 525.32 L257.24 525.46 L259.14 525.59 L261.03 525.72 L262.93 525.85 L264.83 525.97 L266.72 526.08 L268.62 526.2 L270.52 526.3 L272.41 526.41 L274.31 526.51 L276.21 526.61 L278.1 526.7 L280 526.79" fill="none" stroke="#000" stroke-width="1.65" stroke-linecap="butt" stroke-linejoin="round" stroke-dasharray="15 5.3" stroke-dashoffset="8"/>
<path d="M52.4 349.63 L53.66 359.64 L54.93 369.1 L56.19 378.02 L57.46 386.45 L58.72 394.41 L59.99 401.93 L61.25 409.03 L62.52 415.73 L63.78 422.06 L65.04 428.03 L66.31 433.67 L67.57 439 L68.84 444.03 L70.1 448.79 L71.37 453.27 L72.63 457.51 L73.9 461.51 L75.16 465.29 L76.42 468.85 L77.69 472.22 L78.95 475.4 L80.22 478.4 L81.48 481.24 L82.75 483.92 L84.01 486.45 L85.28 488.84 L86.54 491.09 L87.8 493.22 L89.07 495.23 L90.33 497.13 L91.6 498.92 L92.86 500.61 L94.13 502.21 L95.39 503.72 L96.66 505.15 L97.92 506.49 L99.18 507.76 L100.45 508.96 L101.71 510.1 L102.98 511.17 L104.24 512.18 L105.51 513.13 L106.77 514.03 L108.04 514.88 L109.3 515.69 L110.56 516.44 L111.83 517.16 L113.09 517.84 L114.36 518.48 L115.62 519.08 L116.89 519.65 L118.15 520.19 L119.42 520.69 L120.68 521.17 L121.94 521.63 L123.21 522.05 L124.47 522.46 L125.74 522.84 L127 523.2 L128.27 523.54 L129.53 523.86 L130.8 524.16 L132.06 524.45 L133.32 524.72 L134.59 524.97 L135.85 525.22 L137.12 525.44 L138.38 525.66 L139.65 525.86 L140.91 526.05 L142.18 526.23 L143.44 526.4 L144.7 526.57 L145.97 526.72 L147.23 526.86 L148.5 527 L149.76 527.13 L151.03 527.25 L152.29 527.36 L153.56 527.47 L154.82 527.57 L156.08 527.67 L157.35 527.76 L158.61 527.84 L159.88 527.93 L161.14 528 L162.41 528.07 L163.67 528.14 L164.94 528.21 L166.2 528.27 L167.46 528.33 L168.73 528.38 L169.99 528.43 L171.26 528.48 L172.52 528.53 L173.79 528.57 L175.05 528.61 L176.32 528.65 L177.58 528.68 L178.84 528.72 L180.11 528.75 L181.37 528.78 L182.64 528.81 L183.9 528.84 L185.17 528.86 L186.43 528.89 L187.7 528.91 L188.96 528.93 L190.22 528.95 L191.49 528.97 L192.75 528.99 L194.02 529.01 L195.28 529.02 L196.55 529.04 L197.81 529.05 L199.08 529.07 L200.34 529.08 L201.6 529.09 L202.87 529.1 L204.13 529.12" fill="none" stroke="#000" stroke-width="1.15" stroke-linecap="butt" stroke-linejoin="round"/>
<path d="M52.4 349.63 L52.65 360.32 L52.91 370.37 L53.16 379.83 L53.41 388.72 L53.66 397.08 L53.92 404.95 L54.17 412.35 L54.42 419.3 L54.68 425.85 L54.93 432 L55.18 437.79 L55.43 443.23 L55.69 448.35 L55.94 453.17 L56.19 457.7 L56.45 461.96 L56.7 465.97 L56.95 469.73 L57.2 473.28 L57.46 476.61 L57.71 479.74 L57.96 482.69 L58.22 485.46 L58.47 488.07 L58.72 490.53 L58.98 492.83 L59.23 495 L59.48 497.04 L59.73 498.96 L59.99 500.77 L60.24 502.46 L60.49 504.06 L60.75 505.56 L61 506.97 L61.25 508.3 L61.5 509.55 L61.76 510.73 L62.01 511.83 L62.26 512.87 L62.52 513.85 L62.77 514.77 L63.02 515.63 L63.27 516.44 L63.53 517.21 L63.78 517.93 L64.03 518.61 L64.29 519.24 L64.54 519.84 L64.79 520.4 L65.04 520.93 L65.3 521.43 L65.55 521.9 L65.8 522.34 L66.06 522.75 L66.31 523.14 L66.56 523.51 L66.81 523.85 L67.07 524.18 L67.32 524.48 L67.57 524.77 L67.83 525.04 L68.08 525.29 L68.33 525.53 L68.58 525.75 L68.84 525.97 L69.09 526.16 L69.34 526.35 L69.6 526.53 L69.85 526.69 L70.1 526.85 L70.36 526.99 L70.61 527.13 L70.86 527.26 L71.11 527.38 L71.37 527.49 L71.62 527.6 L71.87 527.7 L72.13 527.8 L72.38 527.89 L72.63 527.97 L72.88 528.05 L73.14 528.12 L73.39 528.19 L73.64 528.26 L73.9 528.32 L74.15 528.38 L74.4 528.43 L74.65 528.49 L74.91 528.53 L75.16 528.58 L75.41 528.62 L75.67 528.66 L75.92 528.7 L76.17 528.74 L76.42 528.77 L76.68 528.8 L76.93 528.83 L77.18 528.86 L77.44 528.89 L77.69 528.91 L77.94 528.93 L78.19 528.96 L78.45 528.98 L78.7 529 L78.95 529.01 L79.21 529.03 L79.46 529.05 L79.71 529.06 L79.96 529.08 L80.22 529.09 L80.47 529.1 L80.72 529.11 L80.98 529.12 L81.23 529.13 L81.48 529.14 L81.74 529.15 L81.99 529.16 L82.24 529.17 L82.49 529.18 L82.75 529.19" fill="none" stroke="#000" stroke-width="1.3" stroke-linecap="butt" stroke-linejoin="round" stroke-dasharray="2.6 1.6"/>
<path d="M61.88 376.94V385.93M90.33 381.61V392.75M128.27 393.65V412.16M166.2 414.67V428.15M223.1 427.43V445.4M280 452.04V456.53" fill="none" stroke="#000" stroke-width="1.05"/>
<rect x="49.4" y="346.63" width="6" height="6" fill="#000"/>
<rect x="58.88" y="378.61" width="6" height="6" fill="#000"/>
<rect x="87.33" y="384" width="6" height="6" fill="#000"/>
<rect x="125.27" y="399.81" width="6" height="6" fill="#000"/>
<rect x="163.2" y="417.96" width="6" height="6" fill="#000"/>
<rect x="220.1" y="433.41" width="6" height="6" fill="#000"/>
<rect x="277" y="451.2" width="6" height="6" fill="#000"/>
<path d="M61.88 392.75V410.72M90.33 445.75V461.57M128.27 474.5V487.98" fill="none" stroke="#000" stroke-width="1.05"/>
<path d="M61.88 398.86L65.48 402.46L61.88 406.06L58.28 402.46Z" fill="#000"/>
<path d="M90.33 449.88L93.93 453.48L90.33 457.08L86.73 453.48Z" fill="#000"/>
<path d="M128.27 478.45L131.87 482.05L128.27 485.65L124.67 482.05Z" fill="#000"/>
<path d="M61.88 444.86V454.56" fill="none" stroke="#000" stroke-width="1.05"/>
<circle cx="61.88" cy="449.17" r="3.15" fill="#000"/>
<path d="M90.33 487.98V503.07" fill="none" stroke="#000" stroke-width="1.05"/>
<circle cx="90.33" cy="494.98" r="3.15" fill="#000"/>
<path d="M61.88 499.3V524.99" fill="none" stroke="#777" stroke-width="1.5"/>
<path d="M61.88 508.59L65.38 514.89L58.38 514.89Z" fill="#000"/>
</g>
<g id="p4">
<path d="M372.7 312.4 V528.3 H602.4" fill="none" stroke="#000" stroke-width="1.35" stroke-linecap="square"/>
<text x="361" y="531.9" font-size="11.2" font-weight="bold" text-anchor="end" textLength="5.95" lengthAdjust="spacingAndGlyphs">0</text>
<text x="361" y="495.92" font-size="11.2" font-weight="bold" text-anchor="end" textLength="11.9" lengthAdjust="spacingAndGlyphs">20</text>
<text x="361" y="459.93" font-size="11.2" font-weight="bold" text-anchor="end" textLength="11.9" lengthAdjust="spacingAndGlyphs">40</text>
<text x="361" y="423.95" font-size="11.2" font-weight="bold" text-anchor="end" textLength="11.9" lengthAdjust="spacingAndGlyphs">60</text>
<text x="361" y="387.97" font-size="11.2" font-weight="bold" text-anchor="end" textLength="11.9" lengthAdjust="spacingAndGlyphs">80</text>
<text x="361" y="351.98" font-size="11.2" font-weight="bold" text-anchor="end" textLength="17.85" lengthAdjust="spacingAndGlyphs">100</text>
<text x="361" y="316" font-size="11.2" font-weight="bold" text-anchor="end" textLength="17.85" lengthAdjust="spacingAndGlyphs">120</text>
<text x="372.7" y="547.4" font-size="11.2" font-weight="bold" text-anchor="middle" textLength="5.95" lengthAdjust="spacingAndGlyphs">0</text>
<text x="410.98" y="547.4" font-size="11.2" font-weight="bold" text-anchor="middle" textLength="5.95" lengthAdjust="spacingAndGlyphs">4</text>
<text x="449.27" y="547.4" font-size="11.2" font-weight="bold" text-anchor="middle" textLength="5.95" lengthAdjust="spacingAndGlyphs">8</text>
<text x="487.55" y="547.4" font-size="11.2" font-weight="bold" text-anchor="middle" textLength="11.9" lengthAdjust="spacingAndGlyphs">12</text>
<text x="525.83" y="547.4" font-size="11.2" font-weight="bold" text-anchor="middle" textLength="11.9" lengthAdjust="spacingAndGlyphs">16</text>
<text x="564.12" y="547.4" font-size="11.2" font-weight="bold" text-anchor="middle" textLength="11.9" lengthAdjust="spacingAndGlyphs">20</text>
<text x="602.4" y="547.4" font-size="11.2" font-weight="bold" text-anchor="middle" textLength="11.9" lengthAdjust="spacingAndGlyphs">24</text>
<path d="M368.9 528.3H372.7M368.9 492.32H372.7M368.9 456.33H372.7M368.9 420.35H372.7M368.9 384.37H372.7M368.9 348.38H372.7M368.9 312.4H372.7" fill="none" stroke="#000" stroke-width="1.35"/>
<text x="428.4" y="318.7" font-size="14.9" font-weight="bold" text-anchor="start" textLength="115.4" lengthAdjust="spacingAndGlyphs">PGL-PHA beads</text>
<text x="466.1" y="562.9" font-size="11.4" font-weight="bold" text-anchor="start" textLength="45.7" lengthAdjust="spacingAndGlyphs">Time (h)</text>
<text transform="translate(331.6 500.1) rotate(-90)" font-size="16" font-weight="bold" textLength="144.3" lengthAdjust="spacingAndGlyphs">Residual activity(%)</text>
<path d="M372.7 348.38 L374.61 348.45 L376.53 348.51 L378.44 348.58 L380.36 348.64 L382.27 348.71 L384.19 348.77 L386.1 348.84 L388.01 348.9 L389.93 348.97 L391.84 349.03 L393.76 349.09 L395.67 349.16 L397.58 349.22 L399.5 349.29 L401.41 349.35 L403.33 349.42 L405.24 349.48 L407.15 349.55 L409.07 349.61 L410.98 349.67 L412.9 349.74 L414.81 349.8 L416.73 349.87 L418.64 349.93 L420.55 350 L422.47 350.06 L424.38 350.12 L426.3 350.19 L428.21 350.25 L430.12 350.32 L432.04 350.38 L433.95 350.44 L435.87 350.51 L437.78 350.57 L439.7 350.64 L441.61 350.7 L443.52 350.76 L445.44 350.83 L447.35 350.89 L449.27 350.96 L451.18 351.02 L453.09 351.08 L455.01 351.15 L456.92 351.21 L458.84 351.27 L460.75 351.34 L462.67 351.4 L464.58 351.47 L466.49 351.53 L468.41 351.59 L470.32 351.66 L472.24 351.72 L474.15 351.78 L476.06 351.85 L477.98 351.91 L479.89 351.97 L481.81 352.04 L483.72 352.1 L485.64 352.16 L487.55 352.23 L489.46 352.29 L491.38 352.35 L493.29 352.42 L495.21 352.48 L497.12 352.54 L499.03 352.61 L500.95 352.67 L502.86 352.73 L504.78 352.8 L506.69 352.86 L508.61 352.92 L510.52 352.99 L512.43 353.05 L514.35 353.11 L516.26 353.18 L518.18 353.24 L520.09 353.3 L522 353.37 L523.92 353.43 L525.83 353.49 L527.75 353.55 L529.66 353.62 L531.58 353.68 L533.49 353.74 L535.4 353.81 L537.32 353.87 L539.23 353.93 L541.15 353.99 L543.06 354.06 L544.97 354.12 L546.89 354.18 L548.8 354.24 L550.72 354.31 L552.63 354.37 L554.55 354.43 L556.46 354.5 L558.37 354.56 L560.29 354.62 L562.2 354.68 L564.12 354.75 L566.03 354.81 L567.94 354.87 L569.86 354.93 L571.77 354.99 L573.69 355.06 L575.6 355.12 L577.52 355.18 L579.43 355.24 L581.34 355.31 L583.26 355.37 L585.17 355.43 L587.09 355.49 L589 355.56 L590.91 355.62 L592.83 355.68 L594.74 355.74 L596.66 355.8 L598.57 355.87 L600.49 355.93 L602.4 355.99" fill="none" stroke="#000" stroke-width="2.1" stroke-linecap="butt" stroke-linejoin="round" stroke-dasharray="2.1 2"/>
<path d="M372.7 348.38 L374.61 350.53 L376.53 352.65 L378.44 354.75 L380.36 356.82 L382.27 358.86 L384.19 360.88 L386.1 362.88 L388.01 364.85 L389.93 366.8 L391.84 368.73 L393.76 370.63 L395.67 372.51 L397.58 374.37 L399.5 376.21 L401.41 378.02 L403.33 379.81 L405.24 381.58 L407.15 383.33 L409.07 385.06 L410.98 386.77 L412.9 388.46 L414.81 390.13 L416.73 391.78 L418.64 393.41 L420.55 395.01 L422.47 396.6 L424.38 398.18 L426.3 399.73 L428.21 401.26 L430.12 402.78 L432.04 404.27 L433.95 405.75 L435.87 407.21 L437.78 408.66 L439.7 410.09 L441.61 411.5 L443.52 412.89 L445.44 414.27 L447.35 415.63 L449.27 416.97 L451.18 418.3 L453.09 419.61 L455.01 420.91 L456.92 422.19 L458.84 423.45 L460.75 424.7 L462.67 425.94 L464.58 427.16 L466.49 428.37 L468.41 429.56 L470.32 430.74 L472.24 431.9 L474.15 433.05 L476.06 434.19 L477.98 435.31 L479.89 436.42 L481.81 437.52 L483.72 438.6 L485.64 439.67 L487.55 440.73 L489.46 441.77 L491.38 442.8 L493.29 443.82 L495.21 444.83 L497.12 445.83 L499.03 446.81 L500.95 447.78 L502.86 448.74 L504.78 449.69 L506.69 450.63 L508.61 451.55 L510.52 452.47 L512.43 453.37 L514.35 454.27 L516.26 455.15 L518.18 456.02 L520.09 456.89 L522 457.74 L523.92 458.58 L525.83 459.41 L527.75 460.23 L529.66 461.04 L531.58 461.85 L533.49 462.64 L535.4 463.42 L537.32 464.2 L539.23 464.96 L541.15 465.72 L543.06 466.46 L544.97 467.2 L546.89 467.93 L548.8 468.65 L550.72 469.36 L552.63 470.06 L554.55 470.76 L556.46 471.45 L558.37 472.12 L560.29 472.79 L562.2 473.46 L564.12 474.11 L566.03 474.76 L567.94 475.4 L569.86 476.03 L571.77 476.65 L573.69 477.27 L575.6 477.87 L577.52 478.48 L579.43 479.07 L581.34 479.66 L583.26 480.24 L585.17 480.81 L587.09 481.38 L589 481.94 L590.91 482.49 L592.83 483.04 L594.74 483.58 L596.66 484.11 L598.57 484.64 L600.49 485.16 L602.4 485.67" fill="none" stroke="#000" stroke-width="1.65" stroke-linecap="butt" stroke-linejoin="round" stroke-dasharray="15 5.3" stroke-dashoffset="2.5"/>
<path d="M372.7 348.38 L374.61 354.57 L376.53 360.55 L378.44 366.32 L380.36 371.89 L382.27 377.27 L384.19 382.46 L386.1 387.48 L388.01 392.32 L389.93 397 L391.84 401.51 L393.76 405.88 L395.67 410.09 L397.58 414.15 L399.5 418.08 L401.41 421.87 L403.33 425.53 L405.24 429.06 L407.15 432.48 L409.07 435.77 L410.98 438.96 L412.9 442.03 L414.81 445 L416.73 447.86 L418.64 450.63 L420.55 453.3 L422.47 455.88 L424.38 458.37 L426.3 460.78 L428.21 463.1 L430.12 465.34 L432.04 467.51 L433.95 469.6 L435.87 471.62 L437.78 473.57 L439.7 475.45 L441.61 477.27 L443.52 479.02 L445.44 480.72 L447.35 482.35 L449.27 483.93 L451.18 485.46 L453.09 486.93 L455.01 488.36 L456.92 489.73 L458.84 491.06 L460.75 492.34 L462.67 493.57 L464.58 494.77 L466.49 495.92 L468.41 497.04 L470.32 498.11 L472.24 499.15 L474.15 500.15 L476.06 501.12 L477.98 502.05 L479.89 502.96 L481.81 503.83 L483.72 504.67 L485.64 505.48 L487.55 506.27 L489.46 507.03 L491.38 507.76 L493.29 508.46 L495.21 509.15 L497.12 509.81 L499.03 510.44 L500.95 511.06 L502.86 511.65 L504.78 512.22 L506.69 512.77 L508.61 513.31 L510.52 513.82 L512.43 514.32 L514.35 514.8 L516.26 515.27 L518.18 515.72 L520.09 516.15 L522 516.57 L523.92 516.97 L525.83 517.36 L527.75 517.74 L529.66 518.1 L531.58 518.45 L533.49 518.79 L535.4 519.12 L537.32 519.43 L539.23 519.74 L541.15 520.03 L543.06 520.32 L544.97 520.59 L546.89 520.86 L548.8 521.11 L550.72 521.36 L552.63 521.6 L554.55 521.83 L556.46 522.05 L558.37 522.27 L560.29 522.47 L562.2 522.67 L564.12 522.87 L566.03 523.05 L567.94 523.23 L569.86 523.41 L571.77 523.58 L573.69 523.74 L575.6 523.9 L577.52 524.05 L579.43 524.19 L581.34 524.34 L583.26 524.47 L585.17 524.6 L587.09 524.73 L589 524.85 L590.91 524.97 L592.83 525.09 L594.74 525.2 L596.66 525.3 L598.57 525.41 L600.49 525.51 L602.4 525.6" fill="none" stroke="#000" stroke-width="1.15" stroke-linecap="butt" stroke-linejoin="round"/>
<path d="M372.7 348.38 L372.96 359.09 L373.21 369.15 L373.47 378.62 L373.72 387.53 L373.98 395.9 L374.23 403.78 L374.49 411.18 L374.74 418.15 L375 424.7 L375.25 430.87 L375.51 436.66 L375.76 442.12 L376.02 447.24 L376.27 452.06 L376.53 456.6 L376.78 460.87 L377.04 464.88 L377.29 468.65 L377.55 472.2 L377.8 475.54 L378.06 478.68 L378.31 481.63 L378.57 484.4 L378.83 487.02 L379.08 489.47 L379.34 491.78 L379.59 493.95 L379.85 496 L380.1 497.92 L380.36 499.73 L380.61 501.43 L380.87 503.02 L381.12 504.53 L381.38 505.94 L381.63 507.27 L381.89 508.52 L382.14 509.7 L382.4 510.81 L382.65 511.85 L382.91 512.83 L383.16 513.75 L383.42 514.61 L383.67 515.43 L383.93 516.19 L384.19 516.91 L384.44 517.59 L384.7 518.23 L384.95 518.83 L385.21 519.39 L385.46 519.92 L385.72 520.42 L385.97 520.89 L386.23 521.33 L386.48 521.74 L386.74 522.13 L386.99 522.5 L387.25 522.85 L387.5 523.17 L387.76 523.47 L388.01 523.76 L388.27 524.03 L388.52 524.29 L388.78 524.52 L389.03 524.75 L389.29 524.96 L389.54 525.16 L389.8 525.35 L390.06 525.52 L390.31 525.69 L390.57 525.84 L390.82 525.99 L391.08 526.13 L391.33 526.26 L391.59 526.38 L391.84 526.49 L392.1 526.6 L392.35 526.7 L392.61 526.8 L392.86 526.88 L393.12 526.97 L393.37 527.05 L393.63 527.12 L393.88 527.19 L394.14 527.26 L394.39 527.32 L394.65 527.38 L394.9 527.43 L395.16 527.49 L395.41 527.53 L395.67 527.58 L395.93 527.62 L396.18 527.66 L396.44 527.7 L396.69 527.74 L396.95 527.77 L397.2 527.8 L397.46 527.83 L397.71 527.86 L397.97 527.89 L398.22 527.91 L398.48 527.93 L398.73 527.95 L398.99 527.98 L399.24 527.99 L399.5 528.01 L399.75 528.03 L400.01 528.05 L400.26 528.06 L400.52 528.08 L400.77 528.09 L401.03 528.1 L401.28 528.11 L401.54 528.12 L401.8 528.13 L402.05 528.14 L402.31 528.15 L402.56 528.16 L402.82 528.17 L403.07 528.18 L403.33 528.19" fill="none" stroke="#000" stroke-width="1.3" stroke-linecap="butt" stroke-linejoin="round" stroke-dasharray="2.6 1.6"/>
<path d="M382.27 339.39V353.78M410.98 337.59V357.92M449.27 341.19V353.06M487.55 341.91V357.92M544.97 342.99V359M602.4 354.14V369.07" fill="none" stroke="#000" stroke-width="1.05"/>
<rect x="369.7" y="345.38" width="6" height="6" fill="#000"/>
<rect x="379.27" y="342.68" width="6" height="6" fill="#000"/>
<rect x="407.98" y="344.84" width="6" height="6" fill="#000"/>
<rect x="446.27" y="344.84" width="6" height="6" fill="#000"/>
<rect x="484.55" y="346.64" width="6" height="6" fill="#000"/>
<rect x="541.97" y="348.26" width="6" height="6" fill="#000"/>
<rect x="599.4" y="358.52" width="6" height="6" fill="#000"/>
<path d="M382.27 346.58V357.38M410.98 368.17V389.4M449.27 393.72V409.55M487.55 420.71V438.52M544.97 464.07V473.79M602.4 484.76V496.81" fill="none" stroke="#000" stroke-width="1.05"/>
<path d="M382.27 347.66L385.87 351.26L382.27 354.86L378.67 351.26Z" fill="#000"/>
<path d="M410.98 375.37L414.58 378.97L410.98 382.57L407.38 378.97Z" fill="#000"/>
<path d="M449.27 398.04L452.87 401.64L449.27 405.24L445.67 401.64Z" fill="#000"/>
<path d="M487.55 426.47L491.15 430.07L487.55 433.67L483.95 430.07Z" fill="#000"/>
<path d="M544.97 465.33L548.57 468.93L544.97 472.53L541.37 468.93Z" fill="#000"/>
<path d="M602.4 486.92L606 490.52L602.4 494.12L598.8 490.52Z" fill="#000"/>
<path d="M382.27 411.53V423.41M410.98 431.68V437.08M449.27 466.41V483.68M487.55 498.43V519.66" fill="none" stroke="#000" stroke-width="1.05"/>
<circle cx="382.27" cy="417.83" r="3.15" fill="#000"/>
<circle cx="410.98" cy="434.38" r="3.15" fill="#000"/>
<circle cx="449.27" cy="475.58" r="3.15" fill="#000"/>
<circle cx="487.55" cy="508.87" r="3.15" fill="#000"/>
<path d="M382.27 497.35V522.54" fill="none" stroke="#777" stroke-width="1.5"/>
<path d="M382.27 506.84L385.77 513.14L378.77 513.14Z" fill="#000"/>
<rect x="557.1" y="388.6" width="6" height="6" fill="#000"/>
<text x="567.4" y="395.5" font-size="11.2" font-weight="bold" text-anchor="start" textLength="12.3" lengthAdjust="spacingAndGlyphs">45</text>
<circle cx="582.4" cy="388.2" r="1.35" fill="none" stroke="#000" stroke-width="0.95"/>
<text x="584.6" y="395.8" font-size="13" font-weight="normal" text-anchor="start" textLength="8.8" lengthAdjust="spacingAndGlyphs" stroke="#000" stroke-width="0.35">C</text>
<path d="M560.1 405.3L563.7 408.9L560.1 412.5L556.5 408.9Z" fill="#000"/>
<text x="567.4" y="412.8" font-size="11.2" font-weight="bold" text-anchor="start" textLength="12.3" lengthAdjust="spacingAndGlyphs">50</text>
<circle cx="582.4" cy="405.5" r="1.35" fill="none" stroke="#000" stroke-width="0.95"/>
<text x="584.6" y="413.1" font-size="13" font-weight="normal" text-anchor="start" textLength="8.8" lengthAdjust="spacingAndGlyphs" stroke="#000" stroke-width="0.35">C</text>
<circle cx="560.1" cy="426.2" r="3.15" fill="#000"/>
<text x="567.4" y="430.1" font-size="11.2" font-weight="bold" text-anchor="start" textLength="12.3" lengthAdjust="spacingAndGlyphs">55</text>
<circle cx="582.4" cy="422.8" r="1.35" fill="none" stroke="#000" stroke-width="0.95"/>
<text x="584.6" y="430.4" font-size="13" font-weight="normal" text-anchor="start" textLength="8.8" lengthAdjust="spacingAndGlyphs" stroke="#000" stroke-width="0.35">C</text>
<path d="M560.1 440.04L563.6 446.33L556.6 446.33Z" fill="#000"/>
<text x="567.4" y="447.4" font-size="11.2" font-weight="bold" text-anchor="start" textLength="12.3" lengthAdjust="spacingAndGlyphs">60</text>
<circle cx="582.4" cy="440.1" r="1.35" fill="none" stroke="#000" stroke-width="0.95"/>
<text x="584.6" y="447.7" font-size="13" font-weight="normal" text-anchor="start" textLength="8.8" lengthAdjust="spacingAndGlyphs" stroke="#000" stroke-width="0.35">C</text>
</g>
</svg></body></html>
